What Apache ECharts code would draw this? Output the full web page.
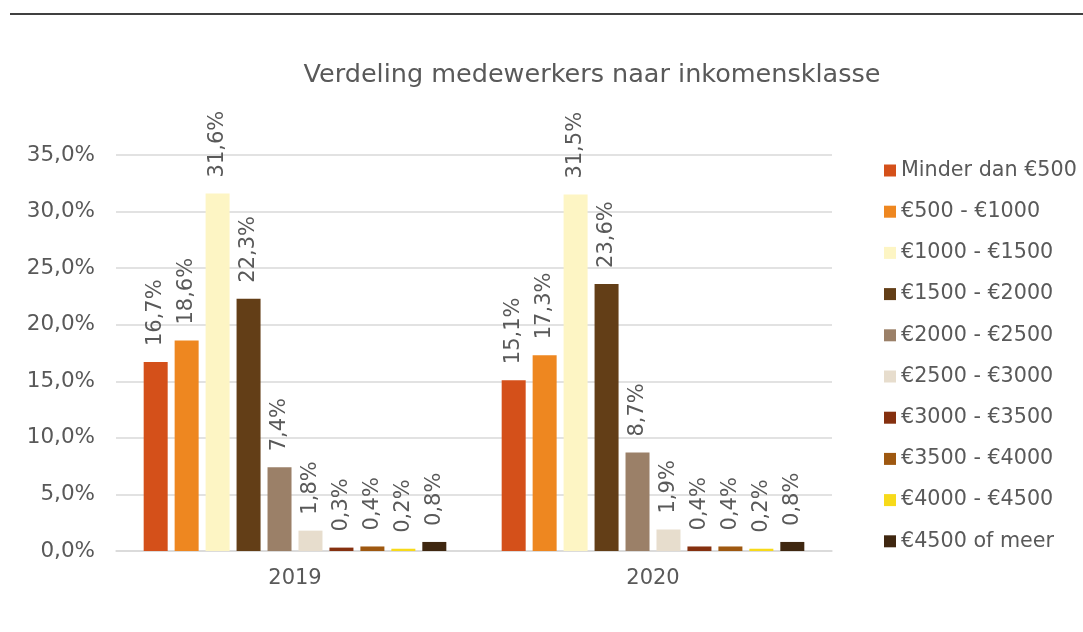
<!DOCTYPE html>
<html>
<head>
<meta charset="utf-8">
<script src="https://cdn.jsdelivr.net/npm/echarts@6/dist/echarts.min.js"></script>
<style>
  html, body { margin: 0; padding: 0; background: #fff; }
  #chart { width: 1083px; height: 632px; }
</style>
</head>
<body>
<div id="chart"></div>
<script>
// jaren op de x-as
const years = ['2019', '2020'];
// inkomensklassen (legenda)
const classes = [
    'Minder dan €500', '€500 - €1000', '€1000 - €1500', '€1500 - €2000', '€2000 - €2500',
    '€2500 - €3000', '€3000 - €3500', '€3500 - €4000', '€4000 - €4500', '€4500 of meer'
];
// percentages per klasse
const values2019 = [16.7, 18.6, 31.6, 22.3, 7.4, 1.8, 0.3, 0.4, 0.2, 0.8];
const values2020 = [15.1, 17.3, 31.5, 23.6, 8.7, 1.9, 0.4, 0.4, 0.2, 0.8];
const colors = ['#D4501A', '#EE8720', '#FDF5C4', '#633E17', '#9B8068',
    '#E7DDCD', '#85300F', '#9E5810', '#F7DA1A', '#3F2710'];

const fontFam = '"DejaVu Sans", Verdana, sans-serif';
const grey = '#595959';

const chart = echarts.init(document.getElementById('chart'));

const series = classes.map((name, i) => ({
    name: name,
    type: 'bar',
    barWidth: 24,
    barGap: '29%',
    data: [values2019[i], values2020[i]],
    itemStyle: { color: colors[i] },
    label: {
        show: true,
        position: 'top',
        rotate: 90,
        align: 'left',
        verticalAlign: 'middle',
        distance: 16,
        color: grey,
        fontFamily: fontFam,
        fontSize: 21,
        formatter: p => p.value.toFixed(1).replace('.', ',') + '%'
    }
}));

const options = {
    color: colors,
    animation: false,
    title: {
        text: 'Verdeling medewerkers naar inkomensklasse',
        left: 587,
        textAlign: 'center',
        top: 57,
        textStyle: { color: grey, fontFamily: fontFam, fontSize: 25.5, fontWeight: 'normal' }
    },
    legend: {
        orient: 'vertical',
        left: 884,
        top: 160,
        padding: 0,
        itemWidth: 12,
        itemHeight: 12,
        itemGap: 20.2,
        icon: 'rect',
        data: classes,
        textStyle: { color: grey, fontFamily: fontFam, fontSize: 20.7, lineHeight: 21 }
    },
    grid: { left: 116, right: 251, top: 155, bottom: 81 },
    xAxis: {
        type: 'category',
        data: years,
        axisTick: { show: false },
        axisLine: { lineStyle: { color: '#d9d9d9', width: 1.5 } },
        axisLabel: { color: grey, fontFamily: fontFam, fontSize: 21, margin: 17 }
    },
    yAxis: {
        type: 'value',
        min: 0,
        max: 35,
        interval: 5,
        axisLabel: {
            color: grey, fontFamily: fontFam, fontSize: 21.5, margin: 21,
            formatter: v => v.toFixed(1).replace('.', ',') + '%'
        },
        splitLine: { lineStyle: { color: '#d9d9d9', width: 1.5 } }
    },
    graphic: [{
        type: 'line',
        shape: { x1: 10, y1: 14, x2: 1083, y2: 14 },
        style: { stroke: '#000', lineWidth: 1.5 }
    }],
    series: series
};

chart.setOption(options);
</script>
</body>
</html>
